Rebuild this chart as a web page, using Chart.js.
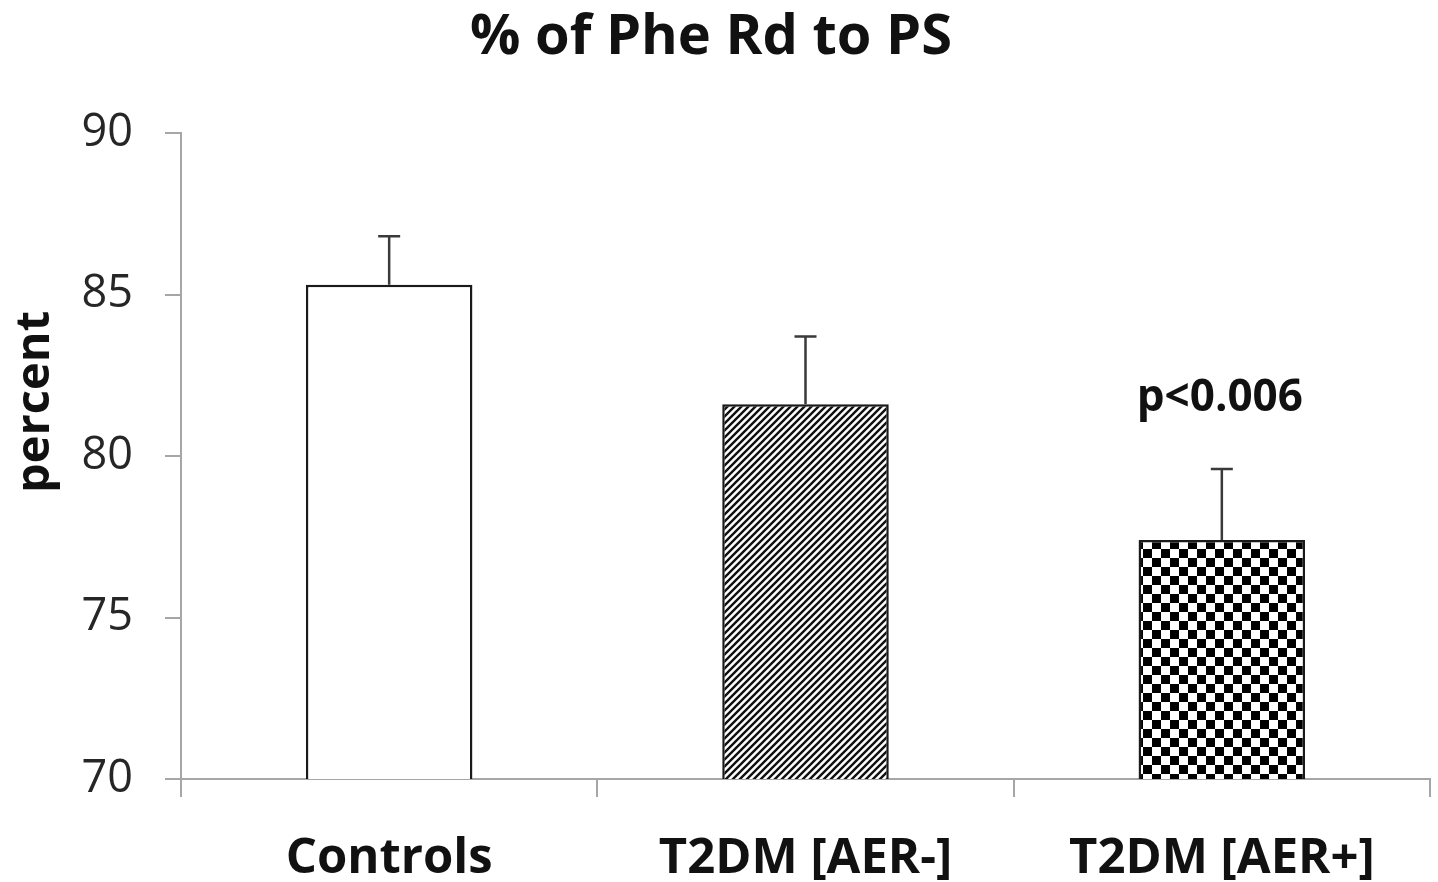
<!DOCTYPE html>
<html>
<head>
<meta charset="utf-8">
<script src="https://cdn.jsdelivr.net/npm/chart.js@4.4.1/dist/chart.umd.min.js"></script>
<style>
  html, body { margin: 0; padding: 0; background: #ffffff; }
  #wrap { width: 1438px; height: 882px; }
</style>
</head>
<body>
<div id="wrap"><canvas id="c" width="1438" height="882"></canvas></div>
<script>
// ---- Data ----
const chartTitle = '% of Phe Rd to PS';
const yAxisTitle = 'percent';
const categories = ['Controls', 'T2DM [AER-]', 'T2DM [AER+]'];
const means = [85.3, 81.6, 77.4];
const upperErrors = [1.5, 2.1, 2.2];
const annotations = ['', '', 'p<0.006'];
const yTicks = [70, 75, 80, 85, 90];

// ---- Patterns ----
function hatchPattern() {
  const s = 7;
  const c = document.createElement('canvas');
  c.width = s; c.height = s;
  const g = c.getContext('2d');
  g.fillStyle = '#ffffff'; g.fillRect(0, 0, s, s);
  g.strokeStyle = '#111111'; g.lineWidth = 2.4;
  g.beginPath();
  g.moveTo(-s, s * 2); g.lineTo(s * 2, -s);
  g.moveTo(-s, s); g.lineTo(s, -s);
  g.moveTo(0, s * 2); g.lineTo(s * 2, 0);
  g.stroke();
  return g.createPattern(c, 'repeat');
}
function checkerPattern() {
  const s = 9;
  const c = document.createElement('canvas');
  c.width = s * 2; c.height = s * 2;
  const g = c.getContext('2d');
  g.fillStyle = '#ffffff'; g.fillRect(0, 0, s * 2, s * 2);
  g.fillStyle = '#000000';
  g.fillRect(0, 0, s, s);
  g.fillRect(s, s, s, s);
  return g.createPattern(c, 'repeat');
}
const fills = ['#ffffff', hatchPattern(), checkerPattern()];

const FONT = '"Open Sans", "Noto Sans", sans-serif';

const overlay = {
  id: 'overlay',
  afterDatasetsDraw(chart) {
    const ctx = chart.ctx;
    const meta = chart.getDatasetMeta(0);
    const y = chart.scales.y;
    ctx.save();
    // error bars
    ctx.strokeStyle = '#3a3a3a';
    ctx.lineWidth = 2.5;
    meta.data.forEach((bar, i) => {
      const x = bar.x;
      const yTop = y.getPixelForValue(means[i] + upperErrors[i]);
      const yBase = y.getPixelForValue(means[i]);
      ctx.beginPath();
      ctx.moveTo(x, yBase);
      ctx.lineTo(x, yTop);
      ctx.moveTo(x - 11, yTop);
      ctx.lineTo(x + 11, yTop);
      ctx.stroke();
      if (annotations[i]) {
        ctx.fillStyle = '#111111';
        ctx.font = 'bold 44px ' + FONT;
        ctx.textAlign = 'center';
        ctx.textBaseline = 'middle';
        ctx.fillText(annotations[i], x - 2, yTop - 70);
      }
    });
    // main title
    ctx.fillStyle = '#111111';
    ctx.font = 'bold 56px ' + FONT;
    ctx.textAlign = 'center';
    ctx.textBaseline = 'middle';
    ctx.fillText(chartTitle, 711, 38);
    // y axis title
    ctx.translate(36, 402);
    ctx.rotate(-Math.PI / 2);
    ctx.font = 'bold 47px ' + FONT;
    ctx.fillText(yAxisTitle, 0, 0);
    ctx.restore();
  }
};

new Chart(document.getElementById('c'), {
  type: 'bar',
  data: {
    labels: categories,
    datasets: [{
      data: means,
      backgroundColor: fills,
      borderColor: '#1a1a1a',
      borderWidth: 2.5,
      borderSkipped: false,
      categoryPercentage: 1.0,
      barPercentage: 0.4
    }]
  },
  options: {
    responsive: false,
    animation: false,
    devicePixelRatio: 1,
    layout: { padding: { top: 133, right: 8, left: 0, bottom: 0 } },
    plugins: { legend: { display: false }, title: { display: false }, tooltip: { enabled: false } },
    scales: {
      y: {
        min: 70, max: 90,
        afterBuildTicks(scale) { scale.ticks = yTicks.map(v => ({ value: v })); },
        afterFit(scale) { scale.width = 181; },
        grid: { drawOnChartArea: false, drawTicks: true, tickLength: 16, color: '#a6a6a6', lineWidth: 2 },
        border: { display: true, color: '#a6a6a6', width: 2 },
        ticks: { color: '#262626', font: { family: FONT, size: 45 }, padding: 32 }
      },
      x: {
        offset: true,
        afterFit(scale) { scale.height = 103; },
        grid: { offset: true, drawOnChartArea: false, drawTicks: true, tickLength: 18, color: '#a6a6a6', lineWidth: 2 },
        border: { display: true, color: '#a6a6a6', width: 2 },
        ticks: { color: '#111111', font: { family: FONT, size: 49, weight: 'bold' }, padding: 33, maxRotation: 0 }
      }
    }
  },
  plugins: [overlay]
});
</script>
</body>
</html>
